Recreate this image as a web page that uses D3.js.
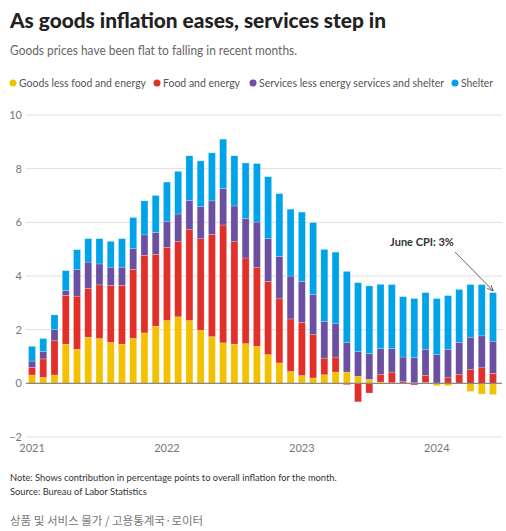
<!DOCTYPE html>
<html>
<head>
<meta charset="utf-8">
<script src="https://cdn.jsdelivr.net/npm/d3@7"></script>
<style>
  body { margin: 0; background: #fff; }
  svg { display: block; font-family: Lato, "Open Sans", sans-serif; }
</style>
</head>
<body>
<svg id="chart" width="506" height="531"></svg>
<script>
const months = [
  "2021-01","2021-02","2021-03","2021-04","2021-05","2021-06","2021-07","2021-08","2021-09","2021-10","2021-11","2021-12",
  "2022-01","2022-02","2022-03","2022-04","2022-05","2022-06","2022-07","2022-08","2022-09","2022-10","2022-11","2022-12",
  "2023-01","2023-02","2023-03","2023-04","2023-05","2023-06","2023-07","2023-08","2023-09","2023-10","2023-11","2023-12",
  "2024-01","2024-02","2024-03","2024-04","2024-05","2024-06"
];
const goods = [0.31,0.22,0.31,1.46,1.27,1.72,1.67,1.53,1.46,1.68,1.88,2.13,
  2.34,2.48,2.34,1.98,1.74,1.51,1.46,1.48,1.38,1.07,0.76,0.44,
  0.29,0.20,0.32,0.42,0.42,0.26,0.15,0.05,0.02,0.01,0.02,0.03,
  -0.09,-0.09,0.01,-0.30,-0.40,-0.42];
const foodEnergy = [0.28,0.69,1.28,1.82,1.98,1.82,2.00,2.12,2.19,2.57,2.89,2.68,
  2.73,2.81,3.39,3.41,3.81,4.39,3.82,3.19,2.94,2.73,2.39,1.96,
  1.98,1.62,0.62,0.56,-0.05,-0.69,-0.36,0.29,0.40,0.07,-0.06,0.27,
  0.01,0.21,0.33,0.51,0.58,0.37];
const services = [0.24,0.27,0.41,0.18,1.00,0.98,0.78,0.68,0.68,0.77,0.76,0.81,
  0.97,1.02,1.09,1.20,1.25,1.36,1.33,1.48,1.69,1.60,1.58,1.60,
  1.53,1.49,1.37,1.24,1.11,0.93,0.96,0.96,0.88,0.90,0.94,0.97,
  1.06,1.06,1.19,1.21,1.19,1.20];
const shelter = [0.55,0.49,0.55,0.74,0.73,0.87,0.94,0.96,1.06,1.16,1.27,1.38,
  1.46,1.59,1.66,1.70,1.79,1.84,1.87,2.06,2.18,2.30,2.34,2.49,
  2.58,2.68,2.68,2.67,2.64,2.56,2.52,2.39,2.38,2.25,2.20,2.11,
  2.09,2.00,1.97,1.96,1.91,1.81];
const seriesNames = ["Goods less food and energy","Food and energy","Services less energy services and shelter","Shelter"];
const seriesKeys = ["goods","foodEnergy","services","shelter"];
const colors = ["#f4c100","#e1302a","#6b4fa1","#00a3e8"];
const yTicks = [-2,0,2,4,6,8,10];
const yearTicks = ["2021-01","2022-01","2023-01","2024-01"];

const rows = months.map((m,i)=>({month:m, goods:goods[i], foodEnergy:foodEnergy[i], services:services[i], shelter:shelter[i]}));

const svg = d3.select("#chart");

// Titles
svg.append("text").attr("x",10).attr("y",28)
  .attr("font-size",20.5).attr("font-weight",900).attr("fill","#222")
  .attr("textLength",376).attr("lengthAdjust","spacingAndGlyphs")
  .text("As goods inflation eases, services step in");
svg.append("text").attr("x",10).attr("y",55)
  .attr("font-size",13).attr("fill","#666")
  .attr("textLength",287).attr("lengthAdjust","spacingAndGlyphs")
  .text("Goods prices have been flat to falling in recent months.");

// Legend
const legendX = [13,157,253,455];
const legendW = [127,77,185,32];
seriesNames.forEach((n,i)=>{
  const g = svg.append("g").attr("transform",`translate(${legendX[i]},83)`);
  g.append("circle").attr("cx",0).attr("cy",0).attr("r",3.5).attr("fill",colors[i]);
  g.append("text").attr("x",6).attr("y",4).attr("font-size",11.2).attr("fill","#555")
    .attr("textLength",legendW[i]).attr("lengthAdjust","spacingAndGlyphs").text(n);
});

// Scales
const y = d3.scaleLinear().domain([-2,10]).range([437,115]);
const x = d3.scaleBand().domain(months).range([26.4,498.6]).paddingInner(0.38).paddingOuter(0.19);

// Gridlines
const grid = svg.append("g");
grid.selectAll("line").data(yTicks.filter(t=>t!==0)).join("line")
  .attr("x1",26).attr("x2",502).attr("y1",d=>y(d)).attr("y2",d=>y(d))
  .attr("stroke","#dedede").attr("stroke-width",1);

// Y axis labels
const yAxis = d3.axisLeft(y).tickValues(yTicks).tickSize(0).tickPadding(0)
  .tickFormat(d=> d<0 ? "\u2212"+Math.abs(d) : d);
const ya = svg.append("g").attr("transform","translate(22,0)").call(yAxis);
ya.select(".domain").remove();
ya.selectAll("text").attr("font-size",11).attr("fill","#777").attr("font-family","Lato, sans-serif");

// Stack
const stack = d3.stack().keys(seriesKeys).offset(d3.stackOffsetDiverging);
const stacked = stack(rows);

svg.append("g").selectAll("g").data(stacked).join("g")
  .attr("fill",(d,i)=>colors[i])
  .selectAll("rect").data(d=>d).join("rect")
  .attr("x",d=>x(d.data.month))
  .attr("width",x.bandwidth())
  .attr("y",d=>y(Math.max(d[0],d[1])))
  .attr("height",d=>Math.abs(y(d[0])-y(d[1])))
  .attr("stroke","rgba(255,255,255,0.35)").attr("stroke-width",0.6);

// Zero line
svg.append("line").attr("x1",26).attr("x2",502).attr("y1",y(0)).attr("y2",y(0))
  .attr("stroke","#888").attr("stroke-width",1.2);

// X axis
const xAxis = d3.axisBottom(x).tickValues(yearTicks).tickSize(0).tickPadding(0)
  .tickFormat(d=>d.slice(0,4));
const xa = svg.append("g").attr("transform","translate(0,444)").call(xAxis);
xa.select(".domain").remove();
xa.selectAll("text").attr("font-size",11).attr("fill","#777").attr("font-family","Lato, sans-serif");

// Annotation
const lastM = months[months.length-1];
const lastTop = y(d3.max(stacked, s=>s[s.length-1][1]));
const defs = svg.append("defs");
defs.append("marker").attr("id","arr").attr("viewBox","0 0 10 10").attr("refX",9).attr("refY",5)
  .attr("markerWidth",7).attr("markerHeight",7).attr("orient","auto-start-reverse")
  .append("path").attr("d","M0,1 L10,5 L0,9").attr("fill","none").attr("stroke","#555").attr("stroke-width",1.4);
svg.append("line").attr("x1",455).attr("y1",252)
  .attr("x2",x(lastM)+x.bandwidth()/2).attr("y2",lastTop-2)
  .attr("stroke","#555").attr("stroke-width",0.9).attr("marker-end","url(#arr)");
svg.append("text").attr("x",422).attr("y",246).attr("text-anchor","middle")
  .attr("font-size",11).attr("font-weight",700).attr("fill","#333").text("June CPI: 3%");

// Notes
svg.append("text").attr("x",10).attr("y",481).attr("font-size",9.3).attr("fill","#333")
  .text("Note: Shows contribution in percentage points to overall inflation for the month.");
svg.append("text").attr("x",10).attr("y",495).attr("font-size",9.3).attr("fill","#333")
  .text("Source: Bureau of Labor Statistics");
svg.append("text").attr("x",10).attr("y",525).attr("font-size",11.5).attr("fill","#777")
  .attr("font-family","'Noto Sans CJK KR', sans-serif")
  .text("상품 및 서비스 물가 / 고용통계국·로이터");
</script>
</body>
</html>
